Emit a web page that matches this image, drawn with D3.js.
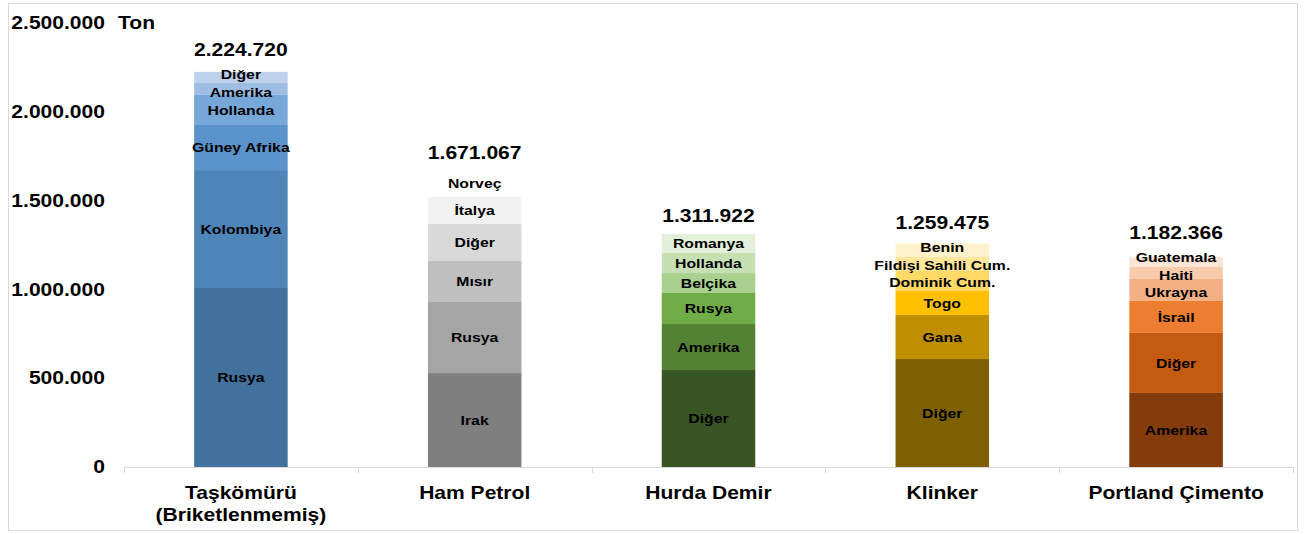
<!DOCTYPE html>
<html lang="tr">
<head>
<meta charset="utf-8">
<script src="https://cdn.jsdelivr.net/npm/d3@7"></script>
<style>
  body { margin: 0; background: #fff; }
  text { font-family: "Liberation Sans", Arial, sans-serif; font-weight: bold; fill: #000; }
  /* the reference text looks horizontally stretched */
  .st  { transform-box: fill-box; transform-origin: center; transform: scaleX(1.17); }
  .stR { transform-box: fill-box; transform-origin: right center; transform: scaleX(1.17); }
  .stL { transform-box: fill-box; transform-origin: left center; transform: scaleX(1.17); }
</style>
</head>
<body>
<div id="chart"></div>
<script>

// data, bottom to top in each bar
var categories = ["Taşkömürü\n(Briketlenmemiş)", "Ham Petrol", "Hurda Demir", "Klinker", "Portland Çimento"];
var totals = [2224720, 1671067, 1311922, 1259475, 1182366];

var countries = [
  ["Rusya", "Kolombiya", "Güney Afrika", "Hollanda", "Amerika", "Diğer"],
  ["Irak", "Rusya", "Mısır", "Diğer", "İtalya", "Norveç"],
  ["Diğer", "Amerika", "Rusya", "Belçika", "Hollanda", "Romanya"],
  ["Diğer", "Gana", "Togo", "Dominik Cum.", "Fildişi Sahili Cum.", "Benin"],
  ["Amerika", "Diğer", "İsrail", "Ukrayna", "Haiti", "Guatemala"]
];
var values = [
  [1008000, 664000, 254000, 169000, 67000, 62720],
  [529000, 400000, 231000, 208000, 152000, 151067],
  [546000, 259000, 175000, 112000, 113000, 106922],
  [608000, 248000, 135000, 113000, 78000, 77475],
  [417000, 338000, 180000, 124000, 67000, 56366]
];
var yTicks = [0, 500000, 1000000, 1500000, 2000000, 2500000];

var colors = [
  ["#43719d", "#4e85b9", "#5a92cb", "#77a6d9", "#9dbde2", "#bdd1ec"],
  ["#7f7f7f", "#a5a5a5", "#bfbfbf", "#d9d9d9", "#f2f2f2", "#ffffff"],
  ["#375623", "#548235", "#70ad47", "#a9d08e", "#c6e0b4", "#e2efda"],
  ["#7f6000", "#bf8f00", "#ffc000", "#ffd966", "#ffe699", "#fff2cc"],
  ["#843c0c", "#c55a11", "#ed7d31", "#f4b084", "#f8cbad", "#fce4d6"]
];

var W = 1304, H = 534;

var svg = d3.select("#chart").append("svg")
    .attr("width", W)
    .attr("height", H);

// outer frame
svg.append("rect")
   .attr("x", 8.5).attr("y", 3.5)
   .attr("width", 1289).attr("height", 527)
   .attr("fill", "none")
   .attr("stroke", "#d9d9d9");

var x = d3.scaleBand()
          .domain(categories)
          .range([124, 1293])
          .paddingInner(0.6)
          .paddingOuter(0.3);

var y = d3.scaleLinear()
          .domain([0, 2500000])
          .range([467, 23]);

var fmt = function(v){ return d3.format(",")(v).replace(/,/g, "."); };

// y tick labels, no axis line
svg.selectAll(".ytick")
   .data(yTicks)
   .enter()
   .append("text")
   .attr("class", "stR")
   .attr("x", 105)
   .attr("y", function(d){ return y(d); })
   .attr("dy", "0.35em")
   .attr("text-anchor", "end")
   .attr("font-size", "18px")
   .text(fmt);

svg.append("text")
   .attr("class", "stL")
   .attr("x", 118)
   .attr("y", y(2500000))
   .attr("dy", "0.35em")
   .attr("font-size", "18px")
   .text("Ton");

// push crowded labels apart (like excel does)
function spread(ys, gap){
  for (var it = 0; it < 20; it++) {
    for (var k = 1; k < ys.length; k++) {
      var d = ys[k-1] - ys[k];   // lower label minus upper label
      if (d < gap) {
        ys[k-1] += (gap - d)/2;
        ys[k]   -= (gap - d)/2;
      }
    }
  }
  return ys;
}

// stacked segments
categories.forEach(function(cat, i){
  var acc = 0;
  var segs = values[i].map(function(v, j){
    var s = {y0: acc, y1: acc + v, name: countries[i][j], color: colors[i][j]};
    acc += v;
    return s;
  });
  var labelY = spread(segs.map(function(d){ return (y(d.y0) + y(d.y1))/2; }), 17.5);

  var g = svg.append("g");
  g.selectAll("rect")
   .data(segs)
   .enter()
   .append("rect")
   .attr("x", x(cat))
   .attr("width", x.bandwidth())
   .attr("y", function(d){ return y(d.y1); })
   .attr("height", function(d){ return y(d.y0) - y(d.y1); })
   .attr("fill", function(d){ return d.color; });

  g.selectAll("text")
   .data(segs)
   .enter()
   .append("text")
   .attr("class", "st")
   .attr("x", x(cat) + x.bandwidth()/2)
   .attr("y", function(d, j){ return labelY[j]; })
   .attr("dy", "0.35em")
   .attr("text-anchor", "middle")
   .attr("font-size", "13.5px")
   .text(function(d){ return d.name; });

  // total on top
  var ty = Math.min(y(totals[i]) - 18, labelY[labelY.length - 1] - 25);
  svg.append("text")
     .attr("class", "st")
     .attr("x", x(cat) + x.bandwidth()/2)
     .attr("y", ty)
     .attr("dy", "0.35em")
     .attr("text-anchor", "middle")
     .attr("font-size", "18px")
     .text(fmt(totals[i]));
});

// x axis
var xAxis = svg.append("g");
xAxis.append("line")
     .attr("x1", 124).attr("x2", 1293)
     .attr("y1", 467.5).attr("y2", 467.5)
     .attr("stroke", "#d9d9d9");
var edges = categories.map(function(c){ return x(c) - x.step()*0.3; });
edges.push(1293);
xAxis.selectAll(".tk")
     .data(edges)
     .enter()
     .append("line")
     .attr("x1", function(d){ return Math.round(d) + 0.5; })
     .attr("x2", function(d){ return Math.round(d) + 0.5; })
     .attr("y1", 467).attr("y2", 473)
     .attr("stroke", "#d9d9d9");

categories.forEach(function(cat){
  var lines = cat.split("\n");
  var t = xAxis.append("g");
  lines.forEach(function(l, k){
    t.append("text")
     .attr("class", "st")
     .attr("x", x(cat) + x.bandwidth()/2)
     .attr("y", 493 + k*22)
     .attr("dy", "0.35em")
     .attr("text-anchor", "middle")
     .attr("font-size", "18px")
     .text(l);
  });
});

</script>
</body>
</html>
